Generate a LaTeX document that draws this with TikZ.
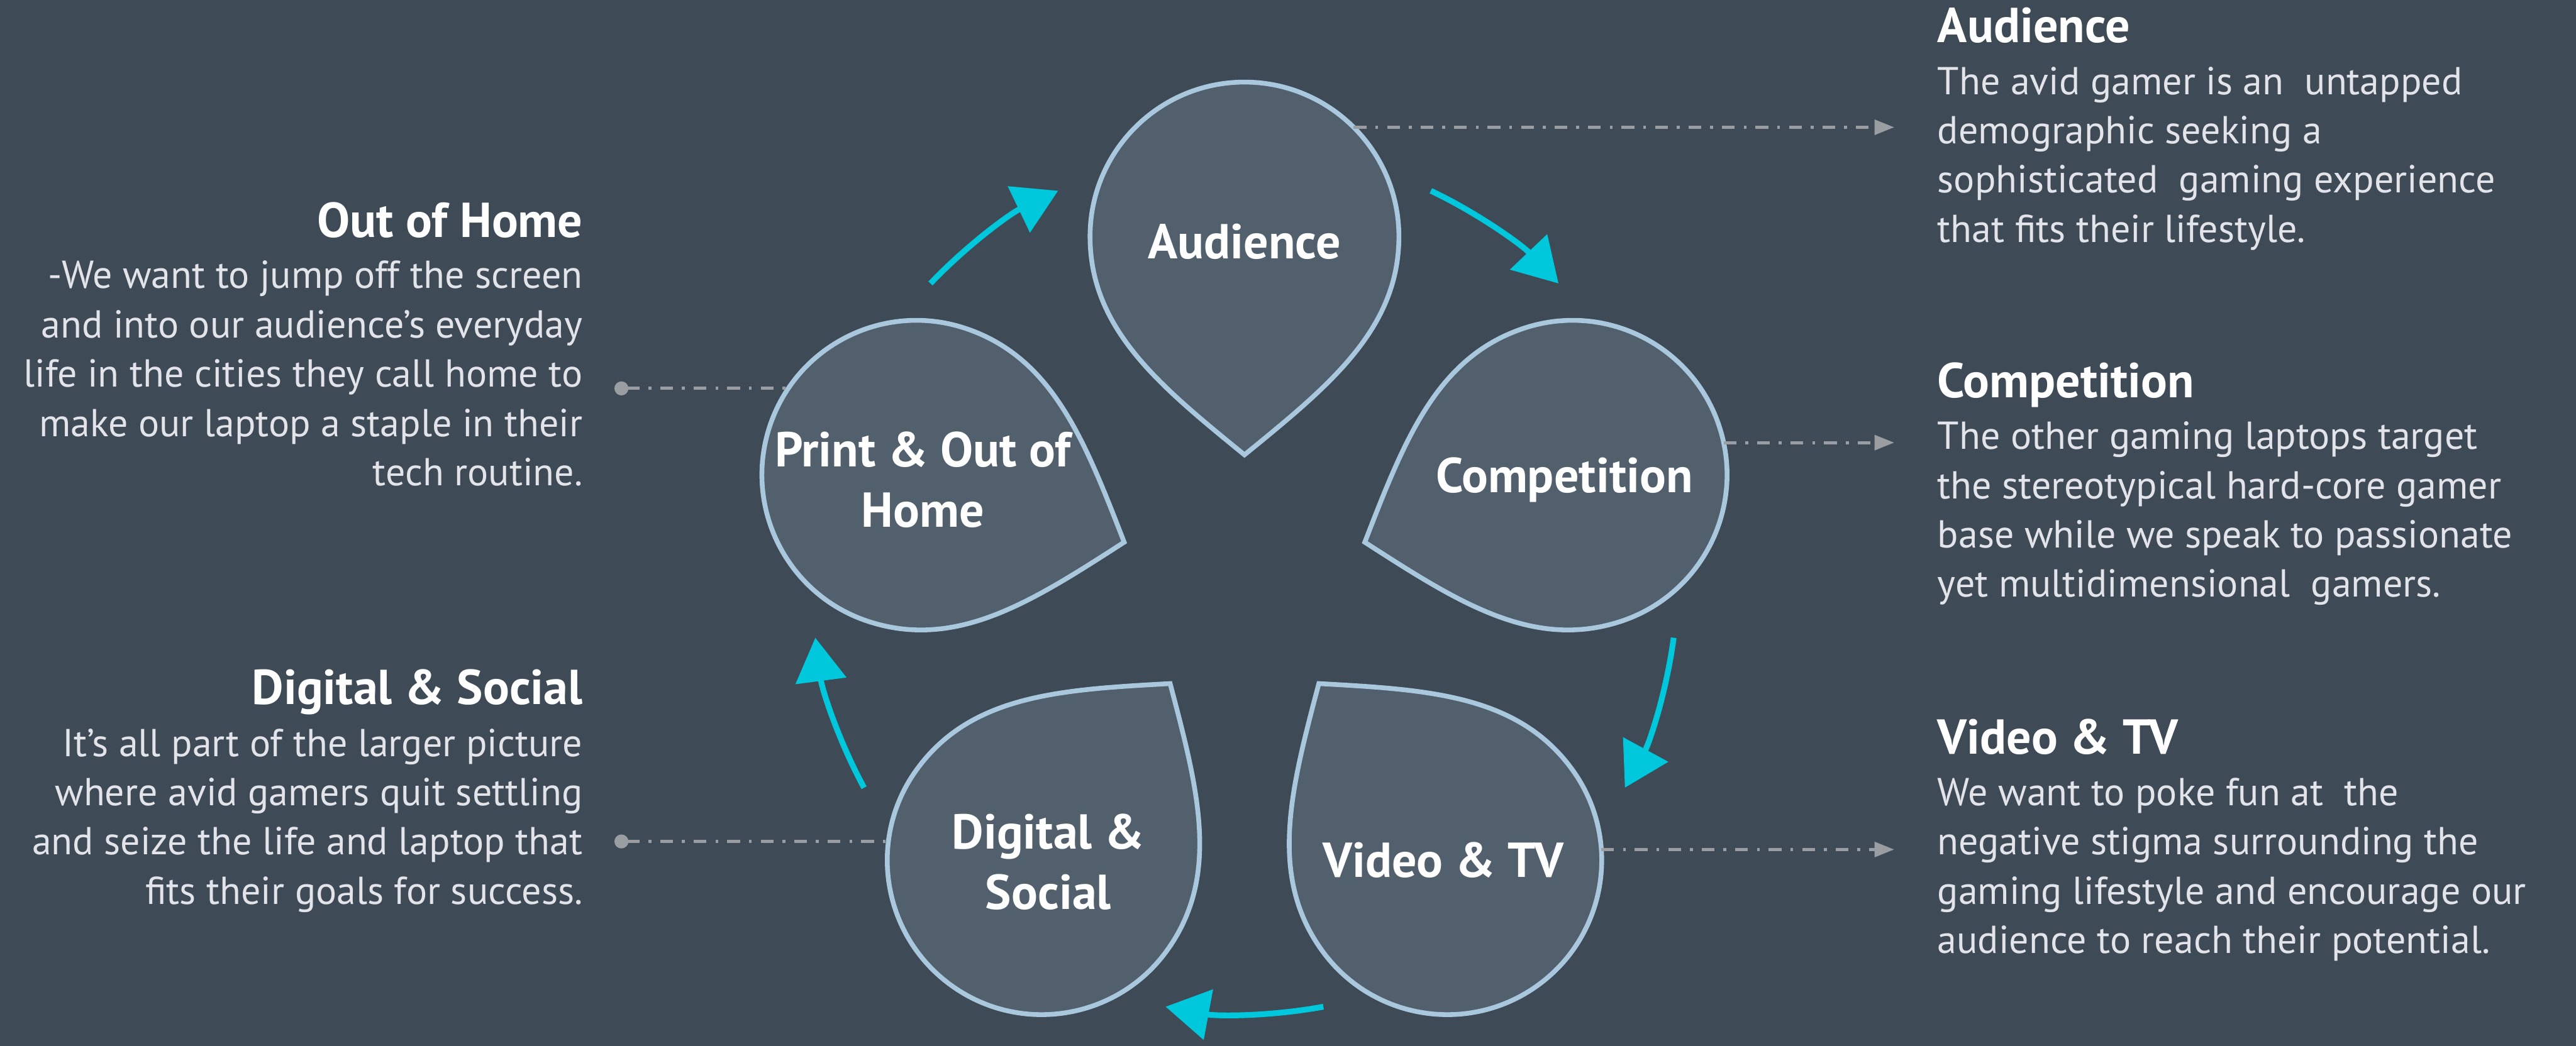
\documentclass[tikz,border=0pt]{standalone}
\usepackage{fontspec}
\setmainfont{PT Sans}
\usetikzlibrary{arrows.meta,calc}

\definecolor{bgcol}{HTML}{3E4A55}
\definecolor{dropfill}{HTML}{52606E}
\definecolor{dropedge}{HTML}{A9C8DD}
\definecolor{flowcyan}{HTML}{00C8DC}
\definecolor{linkgray}{HTML}{9A9DA1}
\definecolor{bodytext}{HTML}{E3E4EA}

\tikzset{
  dropline/.style={draw=dropedge, fill=dropfill, line width=1.65pt},
  drop/.pic={
    \path[dropline] (0,-2.66) .. controls (-1.03,-1.82) and (-1.88,-1.13) .. (-1.88,0)
      arc[start angle=180, end angle=0, radius=1.88]
      .. controls (1.88,-1.13) and (1.03,-1.82) .. (0,-2.66) -- cycle;
  },
  droplabel/.style={text=white, font=\fontsize{17}{21}\selectfont\bfseries, align=center, inner sep=0pt},
  headR/.style={text=white, font=\fontsize{17}{20}\selectfont\bfseries, anchor=base west, inner sep=0pt},
  headL/.style={headR, anchor=base east},
  % multi-line texts sit on the baseline of their last line
  bodyR/.style={text=bodytext, font=\fontsize{13.5}{17.07}\selectfont, align=left, anchor=base west, inner sep=0pt},
  bodyL/.style={bodyR, align=right, anchor=base east},
  flow/.style={draw=flowcyan, line width=2pt, -{Triangle[length=0.53cm,width=0.61cm]}},
  link/.style={draw=linkgray, line width=1.1pt, dash pattern=on 4.4pt off 3.1pt on 1pt off 3.1pt},
}

\begin{document}
\begin{tikzpicture}
  \useasboundingbox[fill=bgcol] (0,0) rectangle (31.36,12.74);

  % centre of the cycle and the five drops round it
  \coordinate (c) at (15.15,5.66);
  \coordinate (pAud) at ($(c)+(90:4.2)$);
  \coordinate (pCmp) at ($(c)+(18:4.2)$);
  \coordinate (pVid) at ($(c)+(-54:4.2)$);
  \coordinate (pDig) at ($(c)+(-126:4.2)$);
  \coordinate (pOoh) at ($(c)+(162:4.2)$);

  \pic at (pAud) {drop};
  \pic[rotate=-72] at (pCmp) {drop};
  \pic[rotate=-144] at (pVid) {drop};
  \pic[rotate=144] at (pDig) {drop};
  \pic[rotate=72] at (pOoh) {drop};

  \node[droplabel] (aud) at ($(pAud)+(0,-0.06)$) {Audience};
  \node[droplabel] (cmp) at ($(pCmp)+(-0.1,-0.06)$) {Competition};
  \node[droplabel] (vid) at ($(pVid)+(-0.05,0)$) {Video \& TV};
  \node[droplabel] (dig) at ($(pDig)+(0.08,-0.02)$) {Digital \&\\Social};
  \node[droplabel] (ooh) at ($(pOoh)+(0.08,-0.06)$) {Print \& Out of\\Home};

  % arrows of the cycle
  \foreach \m in {126,54,-18,-90,-162}
    \draw[flow] ($(c)+({\m+10.5}:5.27)$) arc[start angle=\m+10.5, end angle=\m-10.5, radius=5.27];

  % right hand texts
  \node[headR] (audH) at (23.58,12.222) {Audience};
  \node[bodyR] (audT) at (23.58,9.79) {The avid gamer is an\ \ untapped\\demographic seeking a\\sophisticated\ \ gaming experience\\that fits their lifestyle.};
  \node[headR] (cmpH) at (23.58,7.90) {Competition};
  \node[bodyR] (cmpT) at (23.58,5.468) {The other gaming laptops target\\the stereotypical hard-core gamer\\base while we speak to passionate\\yet multidimensional\ \ gamers.};
  \node[headR] (vidH) at (23.58,3.56) {Video \& TV};
  \node[bodyR] (vidT) at (23.58,1.128) {We want to poke fun at\ \ the\\negative stigma surrounding the\\gaming lifestyle and encourage our\\audience to reach their potential.};

  % left hand texts
  \node[headL] (oohH) at (7.1,9.85) {Out of Home};
  \node[bodyL] (oohT) at (7.1,6.826) {-We want to jump off the screen\\and into our audience’s everyday\\life in the cities they call home to\\make our laptop a staple in their\\tech routine.};
  \node[headL] (digH) at (7.1,4.16) {Digital \& Social};
  \node[bodyL] (digT) at (7.1,1.728) {It’s all part of the larger picture\\where avid gamers quit settling\\and seize the life and laptop that\\fits their goals for success.};

  % dash-dot links between drops and texts
  \coordinate (aAud) at ($(pAud)+(45:1.88)$);
  \coordinate (aCmp) at ($(pCmp)+(12:1.88)$);
  \coordinate (aVid) at ($(pVid)+(4:1.88)$);
  \coordinate (aOoh) at ($(pOoh)+(146:1.88)$);
  \coordinate (aDig) at ($(pDig)+(173:1.88)$);
  \draw[link, -{Triangle[length=0.24cm,width=0.18cm]}] (aAud) -- ($(aAud -| audT.west)+(-0.52,0)$);
  \draw[link, -{Triangle[length=0.24cm,width=0.18cm]}] (aCmp) -- ($(aCmp -| cmpT.west)+(-0.52,0)$);
  \draw[link, -{Triangle[length=0.24cm,width=0.18cm]}] (aVid) -- ($(aVid -| vidT.west)+(-0.52,0)$);
  \draw[link, {Circle[length=0.17cm]}-] ($(aOoh -| oohT.east)+(0.38,0)$) -- (aOoh);
  \draw[link, {Circle[length=0.17cm]}-] ($(aDig -| digT.east)+(0.38,0)$) -- (aDig);
\end{tikzpicture}
\end{document}
